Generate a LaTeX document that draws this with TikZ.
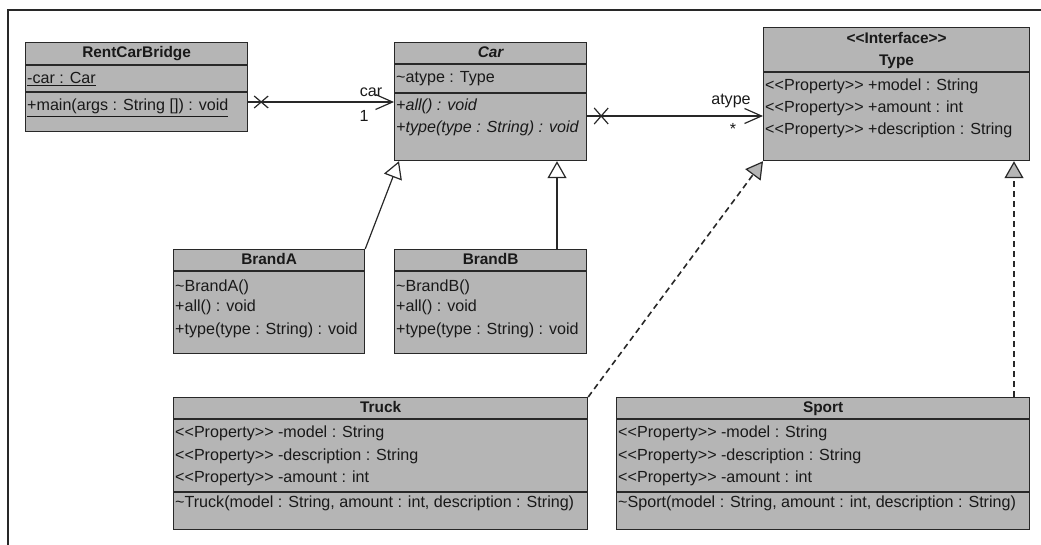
\documentclass[tikz,border=0pt]{standalone}
\usepackage{fontspec}
\setmainfont{Liberation Sans}
\usetikzlibrary{arrows.meta,calc}

\definecolor{boxgray}{RGB}{181,181,181}
\definecolor{linec}{RGB}{40,40,40}
\definecolor{txtc}{RGB}{25,25,25}

% stereotype brackets, kept as two plain characters
\newcommand\dlt{<\kern0pt<}
\newcommand\dgt{>\kern0pt>}
\newcommand\tld{\textasciitilde}

\tikzset{
  umlbox/.style={rectangle, draw=linec, fill=boxgray, line width=1.2pt,
    inner sep=0pt, anchor=north west},
  sepline/.style={draw=linec, line width=1.2pt},
  lbl/.style={anchor=west, inner sep=0pt, text=txtc,
    font=\fontsize{16.1}{18}\selectfont, text height=11pt, text depth=3pt},
  ttl/.style={anchor=center, inner sep=0pt, text=txtc,
    font=\bfseries\fontsize{15.4}{18}\selectfont, text height=11pt, text depth=3pt},
  mult/.style={inner sep=0pt, text=txtc, font=\fontsize{16.1}{18}\selectfont},
  assoc/.style={draw=linec, line width=1.2pt,
    -{Straight Barb[length=17pt,width=15pt,line width=1.2pt]}},
  gen/.style={draw=linec, line width=1.2pt,
    -{Triangle[length=17pt,width=19pt,fill=white,line width=1.2pt]}},
  real/.style={draw=linec, line width=1.6pt, dash pattern=on 6pt off 4pt,
    -{Triangle[length=17pt,width=19pt,fill=boxgray,line width=1.2pt]}},
  xmark/.style={draw=linec, line width=1.2pt},
}

\begin{document}
\begin{tikzpicture}[x=1pt,y=-1pt]
\useasboundingbox (0,0) rectangle (1041,545);

% outer frame
\draw[draw=linec, line width=1.5pt] (8,545) -- (8,10) -- (1041,10);

% ---------------- RentCarBridge ----------------
\node[umlbox, minimum width=222pt, minimum height=89pt] (rcb) at (25,42) {};
\draw[sepline] (rcb.west |- 0,65) -- (rcb.east |- 0,65);
\draw[sepline] (rcb.west |- 0,92) -- (rcb.east |- 0,92);
\node[ttl] (rcb-t) at (rcb.center |- 0,54) {RentCarBridge};
\node[lbl] (rcb-a1) at (27,80) {\underline{-car : Car}};
\node[lbl] (rcb-o1) at (27,107) {\underline{+main(args : String []) : void}};

% ---------------- Car ----------------
\node[umlbox, minimum width=192pt, minimum height=118pt] (car) at (394,42) {};
\draw[sepline] (car.west |- 0,64) -- (car.east |- 0,64);
\draw[sepline] (car.west |- 0,93) -- (car.east |- 0,93);
\node[ttl] (car-t) at (car.center |- 0,54) {\itshape Car};
\node[lbl] (car-a1) at (396,79) {\tld atype : Type};
\node[lbl] (car-o1) at (396,107) {\itshape +all() : void};
\node[lbl] (car-o2) at (396,129) {\itshape +type(type : String) : void};

% ---------------- Type ----------------
\node[umlbox, minimum width=266pt, minimum height=133pt] (type) at (763,27) {};
\draw[sepline] (type.west |- 0,72) -- (type.east |- 0,72);
\node[ttl] (type-s) at (type.center |- 0,40) {\dlt Interface\dgt};
\node[ttl] (type-t) at (type.center |- 0,62) {Type};
\node[lbl] (type-a1) at (765,87) {\dlt Property\dgt{} +model : String};
\node[lbl] (type-a2) at (765,109) {\dlt Property\dgt{} +amount : int};
\node[lbl] (type-a3) at (765,131) {\dlt Property\dgt{} +description : String};

% ---------------- BrandA ----------------
\node[umlbox, minimum width=191pt, minimum height=104pt] (brandA) at (173,249) {};
\draw[sepline] (brandA.west |- 0,271) -- (brandA.east |- 0,271);
\node[ttl] (brandA-t) at (brandA.center |- 0,261) {BrandA};
\node[lbl] (brandA-o1) at (175,287) {\tld BrandA()};
\node[lbl] (brandA-o2) at (175,308) {+all() : void};
\node[lbl] (brandA-o3) at (175,330) {+type(type : String) : void};

% ---------------- BrandB ----------------
\node[umlbox, minimum width=192pt, minimum height=104pt] (brandB) at (394,249) {};
\draw[sepline] (brandB.west |- 0,271) -- (brandB.east |- 0,271);
\node[ttl] (brandB-t) at (brandB.center |- 0,261) {BrandB};
\node[lbl] (brandB-o1) at (396,287) {\tld BrandB()};
\node[lbl] (brandB-o2) at (396,308) {+all() : void};
\node[lbl] (brandB-o3) at (396,330) {+type(type : String) : void};

% ---------------- Truck ----------------
\node[umlbox, minimum width=414pt, minimum height=132pt] (truck) at (173,397) {};
\draw[sepline] (truck.west |- 0,419) -- (truck.east |- 0,419);
\draw[sepline] (truck.west |- 0,492) -- (truck.east |- 0,492);
\node[ttl] (truck-t) at (truck.center |- 0,408) {Truck};
\node[lbl] (truck-a1) at (175,433) {\dlt Property\dgt{} -model : String};
\node[lbl] (truck-a2) at (175,456) {\dlt Property\dgt{} -description : String};
\node[lbl] (truck-a3) at (175,478) {\dlt Property\dgt{} -amount : int};
\node[lbl] (truck-o1) at (175,503) {\tld Truck(model : String, amount : int, description : String)};

% ---------------- Sport ----------------
\node[umlbox, minimum width=413pt, minimum height=132pt] (sport) at (616,397) {};
\draw[sepline] (sport.west |- 0,419) -- (sport.east |- 0,419);
\draw[sepline] (sport.west |- 0,492) -- (sport.east |- 0,492);
\node[ttl] (sport-t) at (sport.center |- 0,408) {Sport};
\node[lbl] (sport-a1) at (618,433) {\dlt Property\dgt{} -model : String};
\node[lbl] (sport-a2) at (618,456) {\dlt Property\dgt{} -description : String};
\node[lbl] (sport-a3) at (618,478) {\dlt Property\dgt{} -amount : int};
\node[lbl] (sport-o1) at (618,503) {\tld Sport(model : String, amount : int, description : String)};

% ---------------- associations ----------------
\draw[assoc] (rcb.east |- 0,102) -- (car.west |- 0,102);
\coordinate (xa) at ($(rcb.east |- 0,102)+(13,0)$);
\draw[xmark] ($(xa)+(-7,-6)$) -- ($(xa)+(7,6)$) ($(xa)+(-7,6)$) -- ($(xa)+(7,-6)$);
\node[mult] (lcar) at (371,92) {car};
\node[mult] (lone) at (364,116) {1};

\draw[assoc] (car.east |- 0,116) -- (type.west |- 0,116);
\coordinate (xb) at ($(car.east |- 0,116)+(14,0)$);
\draw[xmark] ($(xb)+(-7,-8)$) -- ($(xb)+(7,8)$) ($(xb)+(-7,8)$) -- ($(xb)+(7,-8)$);
\node[mult] (latype) at (731,101) {atype};
\node[mult] (lstar) at (733,129) {*};

% ---------------- generalizations ----------------
\draw[gen] (brandA.north east) -- ($(car.south west)+(5,0)$);
\draw[gen] (brandB.north -| 557,0) -- (car.south -| 557,0);

% ---------------- realizations ----------------
\draw[real] (truck.north east) -- (type.south west);
\draw[real] (sport.north -| 1014,0) -- (type.south -| 1014,0);
\end{tikzpicture}
\end{document}
